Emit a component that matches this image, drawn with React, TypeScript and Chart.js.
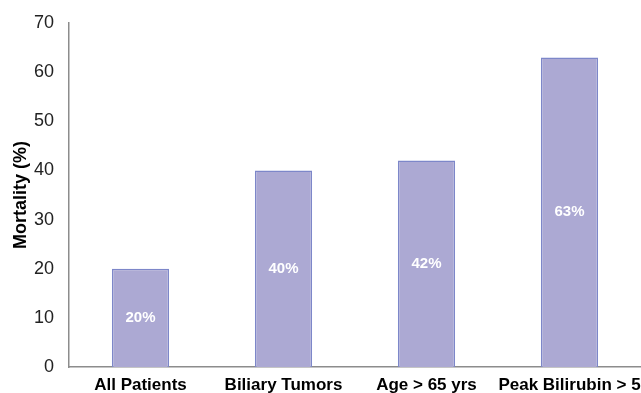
import React, { useEffect, useRef } from "react";
import { Chart, registerables } from "chart.js";

Chart.register(...registerables);

const categories = ["All Patients", "Biliary Tumors", "Age > 65 yrs", "Peak Bilirubin > 5"];
const mortality = [20, 40, 42, 63];
const barLabels = ["20%", "40%", "42%", "63%"];

const FONT = "'Liberation Sans', Arial, sans-serif";

const labelPlugin = {
  id: "barLabels",
  afterDatasetsDraw(chart: any) {
    const ctx = chart.ctx;
    const meta = chart.getDatasetMeta(0);
    ctx.save();
    ctx.fillStyle = "#ffffff";
    ctx.font = `bold 15px ${FONT}`;
    ctx.textAlign = "center";
    ctx.textBaseline = "middle";
    meta.data.forEach((bar: any, i: number) => {
      const p = bar.getProps(["x", "y", "base"], true);
      ctx.fillText(barLabels[i], p.x, (p.y + p.base) / 2);
    });
    ctx.restore();
  },
};

export default function App() {
  const ref = useRef<HTMLCanvasElement>(null);
  useEffect(() => {
    document.body.style.margin = "0";
    const chart = new Chart(ref.current!, {
      type: "bar",
      data: {
        labels: categories,
        datasets: [
          {
            data: mortality,
            backgroundColor: "#aca9d3",
            borderColor: "#7d87c9",
            borderWidth: 1.5,
            categoryPercentage: 0.8,
            barPercentage: 0.5,
          },
        ],
      },
      options: {
        animation: false,
        responsive: false,
        maintainAspectRatio: false,
        layout: { padding: { top: 23, right: 0, left: 0, bottom: 0 } },
        plugins: { legend: { display: false }, tooltip: { enabled: false } },
        scales: {
          x: {
            grid: { display: false },
            border: { display: true, color: "#8c8c8c", width: 1.5 },
            ticks: { color: "#000", font: { family: FONT, size: 17, weight: "bold" }, padding: 0, maxRotation: 0, autoSkip: false },
            afterFit: (s: any) => { s.height = 26; },
          },
          y: {
            min: 0,
            max: 70,
            grid: { display: false },
            border: { display: true, color: "#8c8c8c", width: 1.5 },
            ticks: { stepSize: 10, color: "#222", font: { family: FONT, size: 18 }, padding: 7 },
            title: { display: true, text: "Mortality (%)", color: "#000", font: { family: FONT, size: 18, weight: "bold" }, padding: { top: 10, bottom: 0 } },
            afterFit: (s: any) => { s.width = 69; },
          },
        },
      },
      plugins: [labelPlugin],
    });
    return () => chart.destroy();
  }, []);
  return (
    <div style={{ position: "absolute", left: 0, top: 0, width: 641, height: 393 }}>
      <canvas ref={ref} width={641} height={393} />
    </div>
  );
}
